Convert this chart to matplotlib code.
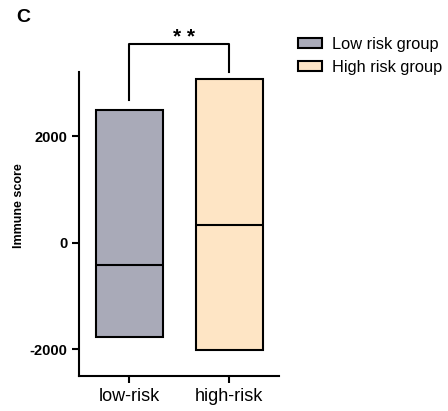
import matplotlib.pyplot as plt
from matplotlib.patches import Patch

plt.rcParams['font.family'] = ['Liberation Sans', 'DejaVu Sans']

groups = ["low-risk", "high-risk"]
legend_labels = ["Low risk group", "High risk group"]
box_min = [-1770, -2020]
box_max = [2490, 3070]
box_median = [-416, 330]
colors = ["#a9aab8", "#fee5c5"]

fig = plt.figure(figsize=(4.48, 4.11), dpi=100)
ax = fig.add_axes([79 / 448, 1 - 376 / 411, 200 / 448, 304 / 411])

xs = [0.5, 1.5]
heights = [hi - lo for lo, hi in zip(box_min, box_max)]
ax.bar(xs, heights, bottom=box_min, width=0.67, color=colors,
       edgecolor="black", linewidth=1.5, zorder=2)
for x, m in zip(xs, box_median):
    ax.hlines(m, x - 0.335, x + 0.335, color="black", linewidth=1.5, zorder=3)

ax.set_xlim(0, 2)
ax.set_ylim(-2500, 3200)
ax.set_xticks(xs)
ax.set_xticklabels(groups, fontsize=13)
ax.set_yticks([-2000, 0, 2000])
ax.set_yticklabels(["-2000", "0", "2000"], fontsize=10.5, fontweight="bold")
ax.tick_params(width=1.5, length=5, direction="out")
for s in ["top", "right"]:
    ax.spines[s].set_visible(False)
for s in ["left", "bottom"]:
    ax.spines[s].set_linewidth(1.5)
ax.set_ylabel("Immune score", fontsize=9, fontweight="bold")
ax.yaxis.set_label_coords(-0.27, 0.56)

# significance bracket
top = 3720
ax.plot([xs[0], xs[0], xs[1], xs[1]],
        [box_max[0] + 190, top, top, box_max[1] + 130],
        color="black", linewidth=1.5, clip_on=False)
ax.text(1.05, top + 300, "* *", ha="center", va="top",
        fontsize=15, fontweight="bold")

handles = [Patch(facecolor=c, edgecolor="black", linewidth=1.5) for c in colors]
fig.legend(handles, legend_labels, loc="upper left",
           bbox_to_anchor=(298 / 448, 1 - 37 / 411), frameon=False,
           fontsize=11.8, handlelength=1.45, handleheight=0.55,
           handletextpad=0.62, labelspacing=0.48,
           borderpad=0, borderaxespad=0)

fig.text(16 / 448, 1 - 18 / 411, "C", fontsize=14, fontweight="bold",
         va="center", ha="left")

fig.savefig("out.png", dpi=100)
